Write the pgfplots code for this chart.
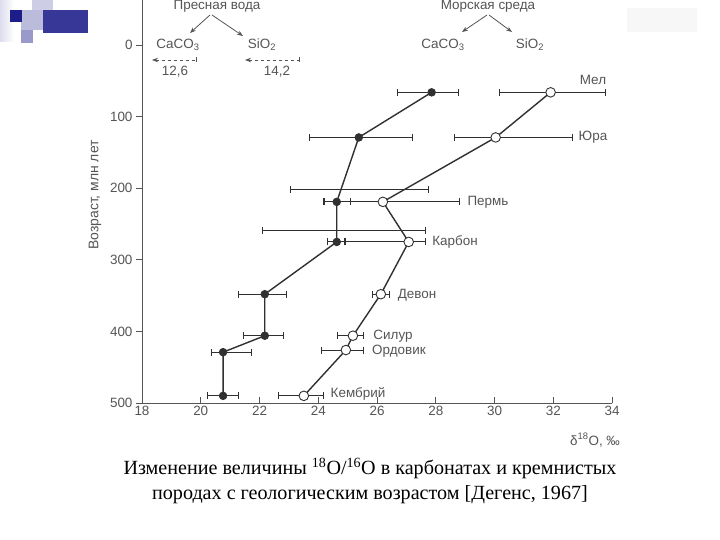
\documentclass[border=0pt]{standalone}
\usepackage{fontspec}
\setmainfont{Liberation Sans}
\newfontfamily\capfont{Liberation Serif}
\usepackage{pgfplots}
\pgfplotsset{compat=1.18}
\usetikzlibrary{arrows.meta}
\definecolor{ink}{HTML}{303030}
\definecolor{txt}{HTML}{555555}
\definecolor{navy}{HTML}{1C1C8A}
\begin{document}
\begin{tikzpicture}
\path[use as bounding box, fill=white] (0,0) rectangle (720bp,540bp);

% slide decoration, top left
\begin{scope}[x=1bp,y=-1bp,yshift=540bp]
  \fill[left color=navy!15, right color=white] (0,0) rectangle (14,42);
  \fill[navy!22] (32,0) rectangle (53,22);
  \fill[navy!30] (21,10) rectangle (43,30);
  \fill[navy!88] (43,10) rectangle (88,33);
  \fill[navy!45] (21,30) rectangle (33,43);
  \fill[navy] (10,10) rectangle (22,22);
  \fill[black!3] (627,8) rectangle (697,32);
\end{scope}

\pgfplotsset{
  ebar/.style={error bars/.cd, x dir=both, x explicit,
    error mark=|,
    error bar style={ink, line width=0.9pt},
    error mark options={ink, mark size=3.5bp, line width=0.9pt}},
}

\begin{axis}[
    at={(142bp,137bp)}, anchor=south west,
    scale only axis,
    width=470bp, height=403bp,
    xmin=18, xmax=34,
    ymin=-63, ymax=500,
    y dir=reverse,
    axis lines*=left,
    axis line style={txt, line width=0.8pt},
    xtick={18,20,...,34},
    ytick={0,100,...,500},
    xtick align=inside,
    ytick align=outside,
    major tick length=6bp,
    tick style={txt, line width=0.8pt},
    ticklabel style={font=\fontsize{13.5}{15}\selectfont, text=txt},
    /pgf/number format/assume math mode=true,
    clip=false,
]
  % carbonates (filled)
  \addplot[ink, line width=1.4pt, mark=*, mark size=3.8bp, mark options={fill=ink, line width=0.8pt}, ebar]
  coordinates {
    (27.86,66)  += (0.92,0) -= (1.15,0)
    (25.38,129) += (1.82,0) -= (1.68,0)
    (24.63,219) += (0.47,0) -= (0.47,0)
    (24.63,275) += (0.30,0) -= (0.30,0)
    (22.18,348) += (0.75,0) -= (0.88,0)
    (22.18,406) += (0.65,0) -= (0.74,0)
    (20.76,429) += (0.98,0) -= (0.38,0)
    (20.76,490) += (0.54,0) -= (0.52,0)
  };
  % silica (open)
  \addplot[ink, line width=1.4pt, mark=*, mark size=4.8bp, mark options={fill=white, line width=0.9pt}, ebar]
  coordinates {
    (31.91,66)  += (1.87,0) -= (1.73,0)
    (30.04,129) += (2.62,0) -= (1.39,0)
    (26.20,219) += (2.60,0) -= (2.00,0)
    (27.08,275) += (0.58,0) -= (2.18,0)
    (26.13,348) += (0.31,0) -= (0.27,0)
    (25.18,406) += (0.37,0) -= (0.51,0)
    (24.94,426) += (0.61,0) -= (0.82,0)
    (23.51,490) += (0.65,0) -= (0.85,0)
  };
  % wide ranges drawn just above the Perm and Carbon rows
  \addplot[draw=none, mark=none, ebar]
  coordinates {
    (25.41,202) +- (2.35,0)
    (24.88,259) +- (2.78,0)
  };
\end{axis}

\begin{scope}[x=1bp,y=-1bp,yshift=540bp, every node/.style={text=txt, font=\fontsize{13.5}{15}\selectfont}]
  % axis titles
  \node[rotate=90, font=\fontsize{14}{15}\selectfont] at (95,195) {Возраст, млн лет};
  \node at (595,440) {δ\textsuperscript{18}O, ‰};
  % fresh water
  \node at (217,6) {Пресная вода};
  \draw[txt, line width=0.8pt, -{Stealth[length=6bp]}] (210,15) -- (190,33);
  \draw[txt, line width=0.8pt, -{Stealth[length=6bp]}] (212,15) -- (243,36);
  \node at (178,45) {CaCO\textsubscript{3}};
  \node at (262,45) {SiO\textsubscript{2}};
  \draw[txt, line width=0.9pt, dashed, {Stealth[length=6bp]}-{Bar[width=5bp]}] (152,60) -- (197,60);
  \draw[txt, line width=0.9pt, dashed, {Stealth[length=6bp]}-{Bar[width=5bp]}] (245,60) -- (300,60);
  \node at (175,72) {12,6};
  \node at (277,72) {14,2};
  % sea
  \node at (488,6) {Морская среда};
  \draw[txt, line width=0.8pt, -{Stealth[length=6bp]}] (487,15) -- (462,32);
  \draw[txt, line width=0.8pt, -{Stealth[length=6bp]}] (489,15) -- (512,32);
  \node at (443,45) {CaCO\textsubscript{3}};
  \node at (530,45) {SiO\textsubscript{2}};
  % periods
  \node at (593,80) {Мел};
  \node at (593,137) {Юра};
  \node at (488,202) {Пермь};
  \node at (455,242) {Карбон};
  \node at (417,295) {Девон};
  \node at (393,336) {Силур};
  \node at (399,351) {Ордовик};
  \node at (358,394) {Кембрий};
  % caption
  \node[text=black, font=\capfont\fontsize{20.2}{25}\selectfont, align=center] at (370,481)
    {Изменение величины \textsuperscript{18}O/\textsuperscript{16}O в карбонатах и кремнистых\\
     породах с геологическим возрастом [Дегенс, 1967]};
\end{scope}
\end{tikzpicture}
\end{document}
